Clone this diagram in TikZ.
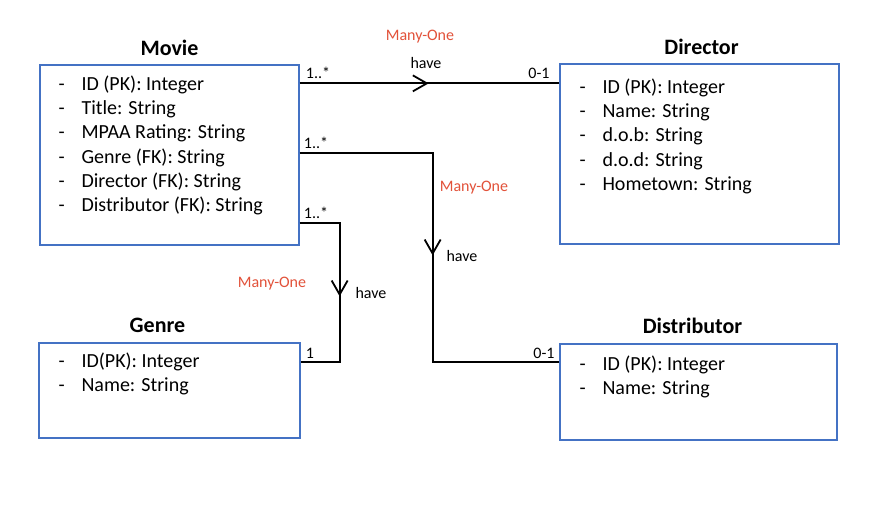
\documentclass[tikz,border=0pt]{standalone}
\usepackage{fontspec}
\setmainfont{Carlito}
\usepackage{tikz}
\usetikzlibrary{arrows.meta,positioning,decorations.markings}
\definecolor{boxblue}{RGB}{68,114,196}
\definecolor{relred}{RGB}{226,82,58}
\newcommand{\attr}[1]{\makebox[23pt][l]{-}#1}
\tikzset{
    entity/.style={draw=boxblue, line width=1.3pt},
    title/.style={font=\fontsize{22}{26}\selectfont\bfseries, inner sep=0pt, text depth=0pt},
    attrs/.style={align=left, inner sep=0pt, anchor=north west, font=\fontsize{20}{24.3}\selectfont},
    lbl/.style={font=\fontsize{16}{19}\selectfont, inner sep=0pt},
    card/.style={lbl},
    relname/.style={lbl, text=relred},
    rel/.style={draw, line width=2pt, postaction={decorate, decoration={markings,
        mark=at position #1 with {\arrow{Straight Barb[length=14pt, width=16pt, line width=1.8pt]}}}}}
}

\begin{document}
\begin{tikzpicture}[x=1pt, y=-1pt]
    \useasboundingbox[fill=white] (0,0) rectangle (896,510);

    % entities
    \node[entity, minimum width=259pt, minimum height=180pt] (movie) at (169.5,155) {};
    \node[entity, minimum width=279pt, minimum height=180pt] (director) at (699.5,154) {};
    \node[entity, minimum width=261pt, minimum height=95pt] (genre) at (169.5,390.5) {};
    \node[entity, minimum width=277pt, minimum height=96pt] (distributor) at (698.5,392) {};

    \node[title, above=9pt of movie] (movietitle) {Movie};
    \node[title, above=9pt of director, xshift=2pt] (directortitle) {Director};
    \node[title, above=10pt of genre, xshift=-12pt] (genretitle) {Genre};
    \node[title, above=10pt of distributor, xshift=-6pt] (distributortitle) {Distributor};

    \node[attrs, below right=11pt and 19pt of movie.north west] (movieattrs) {%
        \attr{ID (PK): Integer}\\ \attr{Title: String}\\ \attr{MPAA Rating: String}\\
        \attr{Genre (FK): String}\\ \attr{Director (FK): String}\\ \attr{Distributor (FK): String}};
    \node[attrs, below right=15pt and 20pt of director.north west] (directorattrs) {%
        \attr{ID (PK): Integer}\\ \attr{Name: String}\\ \attr{d.o.b: String}\\
        \attr{d.o.d: String}\\ \attr{Hometown: String}};
    \node[attrs, below right=10pt and 20pt of genre.north west] (genreattrs) {%
        \attr{ID(PK): Integer}\\ \attr{Name: String}};
    \node[attrs, below right=12pt and 20pt of distributor.north west] (distributorattrs) {%
        \attr{ID (PK): Integer}\\ \attr{Name: String}};

    % relationships
    \draw[rel=129pt] ([yshift=-19pt]movie.north east) -- ([yshift=-20pt]director.north west);
    \draw[rel=235pt] ([yshift=-89pt]movie.north east) -- ++(133pt,0) |- ([yshift=-19pt]distributor.north west);
    \draw[rel=113pt] ([yshift=-159pt]movie.north east) -- ++(40pt,0) |- ([yshift=-20pt]genre.north east);

    \node[relname] (mo1) at (420,37) {Many-One};
    \node[lbl] (have1) at (426,63) {have};
    \node[card] (c1a) at (318,73) {1..*};
    \node[card] (c1b) at (539,73) {0-1};

    \node[card] (c2a) at (316,143) {1..*};
    \node[relname] (mo2) at (474,188) {Many-One};
    \node[lbl] (have2) at (462,256) {have};
    \node[card] (c2b) at (544,353) {0-1};

    \node[card] (c3a) at (316,213) {1..*};
    \node[relname] (mo3) at (272,284) {Many-One};
    \node[lbl] (have3) at (371,293) {have};
    \node[card] (c3b) at (310,353) {1};
\end{tikzpicture}
\end{document}
